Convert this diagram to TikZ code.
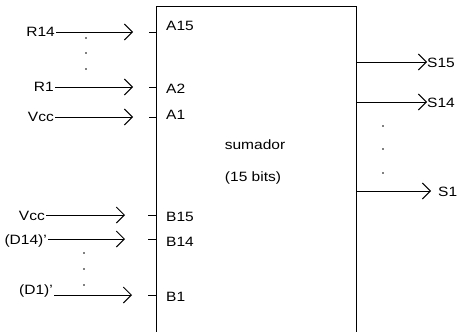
\documentclass[tikz,border=0pt]{standalone}
\usepackage{fontspec}
\setmainfont{Liberation Sans}[FakeStretch=1.15]
\usetikzlibrary{arrows.meta}
\begin{document}
\begin{tikzpicture}[x=1pt,y=-1pt,
  lab/.style={inner sep=1pt,font=\fontsize{13.5}{14}\selectfont},
  sig/.style={draw=black,line width=0.8pt,-{Straight Barb[length=8pt,width=16pt,line width=1pt]}},
  tick/.style={draw=black,line width=0.8pt},
  dotmark/.style={circle,fill=black,inner sep=0pt,minimum size=1.8pt}]
\useasboundingbox (0,0) rectangle (459,332);
% box (open at bottom)
\coordinate (bl) at (156,332);
\coordinate (tl) at (156,6);
\coordinate (tr) at (356,6);
\coordinate (br) at (356,332);
\draw[line width=0.9pt] (bl) -- (tl) -- (tr) -- (br);
\node[lab] (sum) at (255,145) {sumador};
\node[lab] (bits) at (253,178) {(15 bits)};
% input labels
\node[lab,anchor=east] (r14) at (56,32) {R14};
\node[lab,anchor=east] (r1) at (55,87) {R1};
\node[lab,anchor=east] (vcca) at (55,117) {Vcc};
\node[lab,anchor=east] (vccb) at (46,216) {Vcc};
\node[lab,anchor=east] (d14) at (48,241) {(D14)'};
\node[lab,anchor=east] (d1) at (54,291) {(D1)'};
% arrow ends
\coordinate (e1) at (133,32);
\coordinate (e2) at (133,87);
\coordinate (e3) at (133,117);
\coordinate (e4) at (125,215);
\coordinate (e5) at (125,239);
\coordinate (e6) at (132,295);
\draw[sig] (r14.east) -- (e1);
\draw[sig] (r1.east |- e2) -- (e2);
\draw[sig] (vcca.east |- e3) -- (e3);
\draw[sig] (vccb.east |- e4) -- (e4);
\draw[sig] (d14.east |- e5) -- (e5);
\draw[sig] (d1.east |- e6) -- (e6);
% pin ticks
\coordinate (t1) at (149,32);
\coordinate (t2) at (149,87);
\coordinate (t3) at (149,117);
\coordinate (t4) at (148,215);
\coordinate (t5) at (148,239);
\coordinate (t6) at (148,295);
\foreach \t in {t1,t2,t3,t4,t5,t6} \draw[tick] (\t) -- (tl |- \t);
% pin names
\node[lab,anchor=west] (a15) at (165,26) {A15};
\node[lab,anchor=west] (a2) at (165,89) {A2};
\node[lab,anchor=west] (a1) at (165,115) {A1};
\node[lab,anchor=west] (b15) at (165,217) {B15};
\node[lab,anchor=west] (b14) at (165,242) {B14};
\node[lab,anchor=west] (b1) at (165,297) {B1};
% outputs
\node[lab,anchor=west,inner sep=0pt] (s15) at (427,63) {S15};
\node[lab,anchor=west,inner sep=0pt] (s14) at (427,103) {S14};
\node[lab,anchor=west,inner sep=0pt] (s1) at (438,192) {S1};
\coordinate (o1) at (356,62);
\coordinate (o2) at (356,102);
\coordinate (o3) at (356,191);
\draw[sig] (o1) -- (s15.west |- o1);
\draw[sig] (o2) -- (s14.west |- o2);
\draw[sig] (o3) -- ([xshift=-7pt]s1.west |- o3);
% dots
\foreach \p in {(86,38),(86,53),(86,69),(84,253),(84,269),(84,285),(383,126),(383,149),(383,173)}
  \node[dotmark] at \p {};
\end{tikzpicture}
\end{document}
